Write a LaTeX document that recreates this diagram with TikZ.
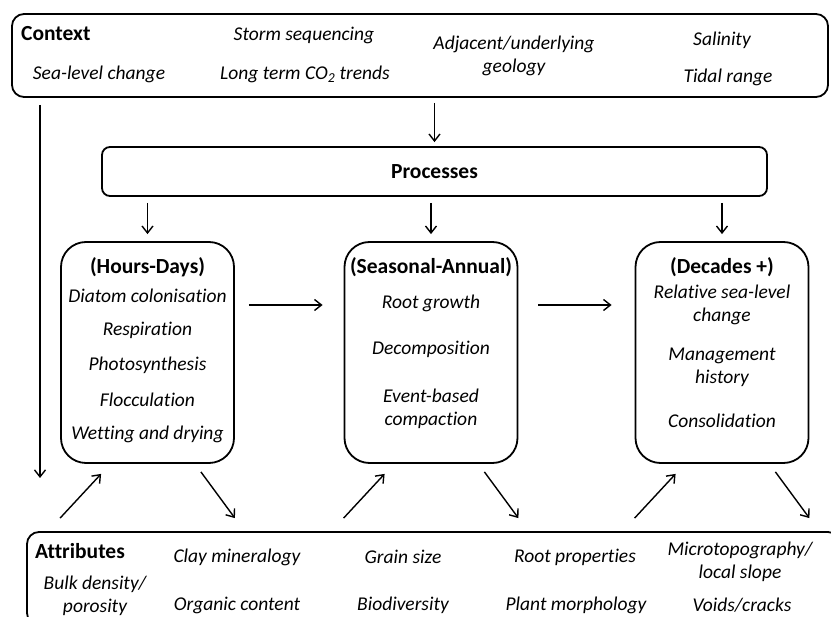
\documentclass[tikz,border=0pt]{standalone}
\usepackage{fontspec}
\setmainfont{Carlito}[Ligatures=NoCommon]
\usetikzlibrary{arrows.meta,calc}

\begin{document}
\begin{tikzpicture}[x=1pt,y=-1pt,
  box/.style={draw,line width=1.8pt,rounded corners=#1,inner sep=0pt},
  box/.default=12pt,
  head/.style={font=\fontsize{21.5}{26}\selectfont\bfseries,inner sep=0pt},
  item/.style={font=\fontsize{19.5}{23}\selectfont\itshape,align=center,inner sep=0pt},
  arr/.style={line width=1.4pt,-{Straight Barb[length=7pt,width=11pt]}}]
\useasboundingbox (0,0) rectangle (831,617);
\clip (0,0) rectangle (831,617);

% boxes
\node[box,minimum width=816pt,minimum height=83pt] (context) at (420,55.5) {};
\node[box=8pt,minimum width=665pt,minimum height=49pt,head] (processes) at (434.5,171.5) {Processes};
\foreach \name/\x in {hours/147.5,seasonal/431,decades/722}
  \node[box=25pt,minimum width=173pt,minimum height=221pt] (\name) at (\x,352.5) {};
\node[box,minimum width=813pt,minimum height=93pt] (attr) at (433.5,578.5) {};

% context
\node[head,anchor=west] (ctxtitle) at (21,34) {Context};
\node[item] (storm) at (304,35) {Storm sequencing};
\node[item] (geology) at (514,56) {Adjacent/underlying\\geology};
\node[item] (salinity) at (722,40) {Salinity};
\node[item] (sealevel) at (99,74) {Sea-level change};
\node[item] (cotwo) at (305,74) {Long term CO\textsubscript{2} trends};
\node[item] (tidal) at (728,77) {Tidal range};

% hours-days
\node[head] (hourstitle) at (147.5,267) {(Hours-Days)};
\node[item] (diatom) at (147.5,296) {Diatom colonisation};
\node[item] (respiration) at (147.5,330) {Respiration};
\node[item] (photo) at (147.5,365) {Photosynthesis};
\node[item] (floc) at (147.5,400) {Flocculation};
\node[item] (wetting) at (147.5,434) {Wetting and drying};

% seasonal-annual
\node[head] (seasontitle) at (431,267) {(Seasonal-Annual)};
\node[item] (root) at (431,303) {Root growth};
\node[item] (decomp) at (431,349) {Decomposition};
\node[item] (compaction) at (431,408.5) {Event-based\\compaction};

% decades
\node[head] (decadetitle) at (722,267) {(Decades +)};
\node[item] (relsea) at (722,305) {Relative sea-level\\change};
\node[item] (manage) at (722,367.5) {Management\\history};
\node[item] (consol) at (722,421) {Consolidation};

% attributes
\node[head,anchor=west] (attrtitle) at (35,551) {Attributes};
\node[item] (bulk) at (95,596) {Bulk density/\\porosity};
\node[item] (clay) at (237,557) {Clay mineralogy};
\node[item] (organic) at (237,605) {Organic content};
\node[item] (grain) at (403,557) {Grain size};
\node[item] (biodiv) at (403,605) {Biodiversity};
\node[item] (rootprop) at (575,557) {Root properties};
\node[item] (plant) at (576,605) {Plant morphology};
\node[item] (micro) at (740,561.5) {Microtopography/\\local slope};
\node[item] (voids) at (742,605) {Voids/cracks};

% arrows
\draw[arr,shorten <=5pt,shorten >=4pt] (processes.north |- context.south) -- (processes.north);
\coordinate (leftend) at (40,478);
\draw[arr,shorten <=7pt] (leftend |- context.south) -- (leftend);
\foreach \name in {hours,seasonal,decades}
  \draw[arr,shorten <=6pt,shorten >=7pt] (\name.north |- processes.south) -- (\name.north);
\draw[arr,shorten <=14pt,shorten >=21pt] ([yshift=47.5pt]hours.east) -- ([yshift=47.5pt]seasonal.west);
\draw[arr,shorten <=20pt,shorten >=23pt] ([yshift=47.5pt]seasonal.east) -- ([yshift=47.5pt]decades.west);
\foreach \name in {hours,seasonal,decades}{
  \draw[arr] ($(\name.south west |- attr.north)+(0,-13)$) -- ($(\name.south west)+(41,10)$);
  \draw[arr] ($(\name.south east)+(-34,8)$) -- ($(\name.south east |- attr.north)+(0,-13)$);
}
\end{tikzpicture}
\end{document}
